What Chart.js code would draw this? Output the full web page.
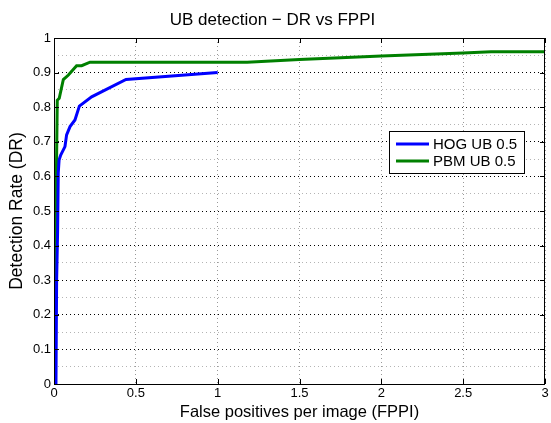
<!DOCTYPE html>
<html>
<head>
<meta charset="utf-8">
<script src="https://cdn.jsdelivr.net/npm/chart.js@4"></script>
<style>
  html, body { margin: 0; padding: 0; background: #fff; }
  #wrap { width: 551px; height: 423px; }
</style>
</head>
<body>
<div id="wrap"><canvas id="roc" width="551" height="423"></canvas></div>
<script>
// valores
const fppiHog = [0.012, 0.016, 0.022, 0.026, 0.031, 0.041, 0.067, 0.077, 0.098, 0.128, 0.155, 0.23, 0.44, 1.0];
const drHog   = [0.0, 0.3, 0.44, 0.61, 0.647, 0.662, 0.686, 0.72, 0.744, 0.763, 0.803, 0.83, 0.88, 0.90];
const fppiPbm = [0.005, 0.012, 0.02, 0.032, 0.057, 0.088, 0.138, 0.169, 0.22, 1.18, 1.5, 2.0, 2.5, 2.67, 3.0];
const drPbm   = [0.0, 0.5, 0.82, 0.826, 0.88, 0.893, 0.92, 0.92, 0.93, 0.93, 0.938, 0.948, 0.957, 0.96, 0.96];
const legendas = ['HOG UB 0.5', 'PBM UB 0.5'];
const cores = ['#0000ff', '#008000'];

const fonte = 'Liberation Sans, Arial, Helvetica, sans-serif';

function pontos(xs, ys) {
    return xs.map((x, i) => ({ x: x, y: ys[i] }));
}

// caixa do eixo, ticks para dentro e legenda
const molduraPlugin = {
    id: 'moldura',
    afterDraw(chart) {
        const ctx = chart.ctx;
        const a = chart.chartArea;
        const sx = chart.scales.x, sy = chart.scales.y;
        ctx.save();
        ctx.strokeStyle = '#000';
        ctx.lineWidth = 1;
        ctx.strokeRect(a.left + 0.5, a.top + 0.5, a.right - a.left - 1, a.bottom - a.top);
        ctx.beginPath();
        for (let v = 0; v <= 3.0001; v += 0.5) {
            const px = Math.round(sx.getPixelForValue(v)) + 0.5;
            ctx.moveTo(px, a.bottom); ctx.lineTo(px, a.bottom - 5);
            ctx.moveTo(px, a.top); ctx.lineTo(px, a.top + 5);
        }
        for (let v = 0; v <= 1.0001; v += 0.1) {
            const py = Math.round(sy.getPixelForValue(v)) + 0.5;
            ctx.moveTo(a.left, py); ctx.lineTo(a.left + 5, py);
            ctx.moveTo(a.right, py); ctx.lineTo(a.right - 5, py);
        }
        ctx.stroke();

        // legenda
        const bx = 389, by = 131, bw = 135, bh = 42;
        ctx.fillStyle = '#fff';
        ctx.fillRect(bx, by, bw, bh);
        ctx.strokeRect(bx + 0.5, by + 0.5, bw, bh);
        ctx.font = '15px ' + fonte;
        ctx.textBaseline = 'middle';
        legendas.forEach((txt, i) => {
            const y = by + 13 + i * 17;
            ctx.strokeStyle = cores[i];
            ctx.lineWidth = 3;
            ctx.beginPath();
            ctx.moveTo(bx + 7, y); ctx.lineTo(bx + 40, y);
            ctx.stroke();
            ctx.fillStyle = '#000';
            ctx.fillText(txt, bx + 44, y + 1);
        });
        ctx.restore();
    }
};

new Chart(document.getElementById('roc'), {
    type: 'line',
    data: {
        datasets: [
            { label: legendas[0], data: pontos(fppiHog, drHog), borderColor: cores[0], borderWidth: 3, pointRadius: 0, tension: 0 },
            { label: legendas[1], data: pontos(fppiPbm, drPbm), borderColor: cores[1], borderWidth: 3, pointRadius: 0, tension: 0 }
        ]
    },
    options: {
        responsive: false,
        animation: false,
        layout: { padding: { right: 6 } },
        plugins: {
            legend: { display: false },
            tooltip: { enabled: false },
            title: {
                display: true,
                text: 'UB detection \u2212 DR vs FPPI',
                color: '#000',
                font: { family: fonte, size: 17, weight: 'normal', lineHeight: 1.2 },
                padding: { top: 10, bottom: 7.6 }
            }
        },
        scales: {
            x: {
                type: 'linear', min: 0, max: 3,
                afterFit(s) { s.height = 39; },
                ticks: {
                    stepSize: 0.5, color: '#000', padding: 2, maxRotation: 0,
                    font: { family: fonte, size: 13 },
                    callback: v => String(v)
                },
                grid: { color: '#999', lineWidth: 1, drawTicks: false },
                border: { display: false, dash: [1, 3] },
                title: {
                    display: true, text: 'False positives per image (FPPI)', color: '#000',
                    font: { family: fonte, size: 16.5 }, padding: { top: 1, bottom: 1 }
                }
            },
            y: {
                type: 'linear', min: 0, max: 1,
                afterFit(s) { s.width = 54; },
                ticks: {
                    stepSize: 0.05, color: '#000', padding: 3, autoSkip: false,
                    font: { family: fonte, size: 13 },
                    callback: v => {
                        const r = Math.round(v * 100);
                        return r % 10 === 0 ? String(r / 100) : '';
                    }
                },
                grid: {
                    drawTicks: false, lineWidth: 1,
                    color: c => (Math.round(c.tick.value * 100) % 10 === 0 ? '#000' : '#b4b4b4')
                },
                border: { display: false, dash: [1, 3] },
                title: {
                    display: true, text: 'Detection Rate (DR)', color: '#000',
                    font: { family: fonte, size: 17.5 }, padding: { top: 6.5, bottom: 0 }
                }
            }
        }
    },
    plugins: [molduraPlugin]
});
</script>
</body>
</html>
